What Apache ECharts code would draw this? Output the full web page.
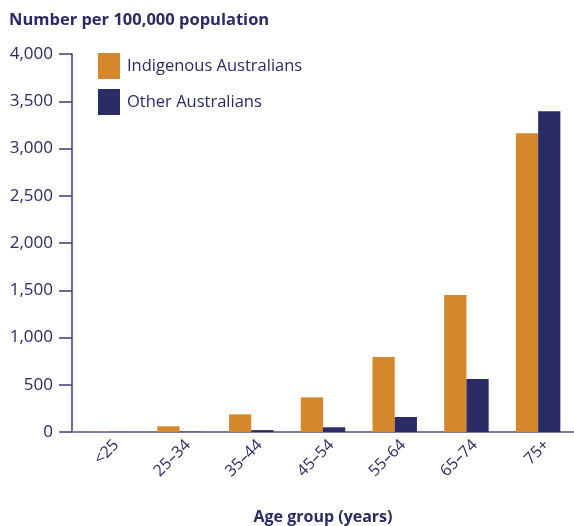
<!DOCTYPE html>
<html><head><meta charset="utf-8">
<script src="https://cdn.jsdelivr.net/npm/echarts@6/dist/echarts.min.js"></script>
<style>html,body{margin:0;padding:0;background:#fff}#c{width:574px;height:526px}</style>
</head><body><div id="c"></div>
<script>
const categories = ['<25', '25–34', '35–44', '45–54', '55–64', '65–74', '75+'];
const indigenous = [3, 60, 187, 367, 794, 1450, 3161];
const other = [1, 3, 20, 50, 159, 561, 3394];
const seriesNames = ['Indigenous Australians', 'Other Australians'];
const yTicks = [0, 500, 1000, 1500, 2000, 2500, 3000, 3500, 4000];

const txt = '#2b2a63';
const font = 'Open Sans';
const chart = echarts.init(document.getElementById('c'));
chart.setOption({
  animation: false,
  textStyle: { fontFamily: font, color: txt },
  title: {
    text: 'Number per 100,000 population', left: 4, top: 7,
    textStyle: { fontFamily: font, fontSize: 16.5, fontWeight: 'bold', color: txt }
  },
  legend: {
    orient: 'vertical', left: 98, top: 53, padding: 0, itemWidth: 22, itemHeight: 26, itemGap: 10,
    icon: 'rect',
    textStyle: { fontFamily: font, fontSize: 16.5, color: txt, padding: [0, 0, 0, 2] },
    data: seriesNames
  },
  grid: { left: 72, right: 0, top: 54, bottom: 94, containLabel: false, outerBoundsMode: 'none' },
  xAxis: {
    type: 'category', data: categories,
    name: 'Age group (years)', nameLocation: 'middle', nameGap: 77,
    nameTextStyle: { fontFamily: font, fontSize: 16, fontWeight: 'bold', color: txt },
    axisLine: { lineStyle: { color: '#7d7ca0', width: 2 } },
    axisTick: { show: false },
    axisLabel: { rotate: 45, color: txt, fontSize: 16, fontFamily: font, margin: 19, padding: [0, -12, 0, 0] }
  },
  yAxis: {
    type: 'value', min: 0, max: 4000, interval: 500,
    axisLine: { show: true, lineStyle: { color: '#3c3b72', width: 1.5 } },
    axisTick: { show: true, length: 13, lineStyle: { color: '#3c3b72', width: 1.5 } },
    splitLine: { show: false },
    axisLabel: {
      color: txt, fontSize: 17, fontFamily: font, margin: 19,
      formatter: v => yTicks.includes(v) ? v.toLocaleString('en-US') : ''
    }
  },
  series: [
    { name: seriesNames[0], type: 'bar', data: indigenous, barGap: '0%', barCategoryGap: '38%',
      itemStyle: { color: '#d4882b' } },
    { name: seriesNames[1], type: 'bar', data: other,
      itemStyle: { color: '#2b2b66' } }
  ]
});
</script></body></html>
